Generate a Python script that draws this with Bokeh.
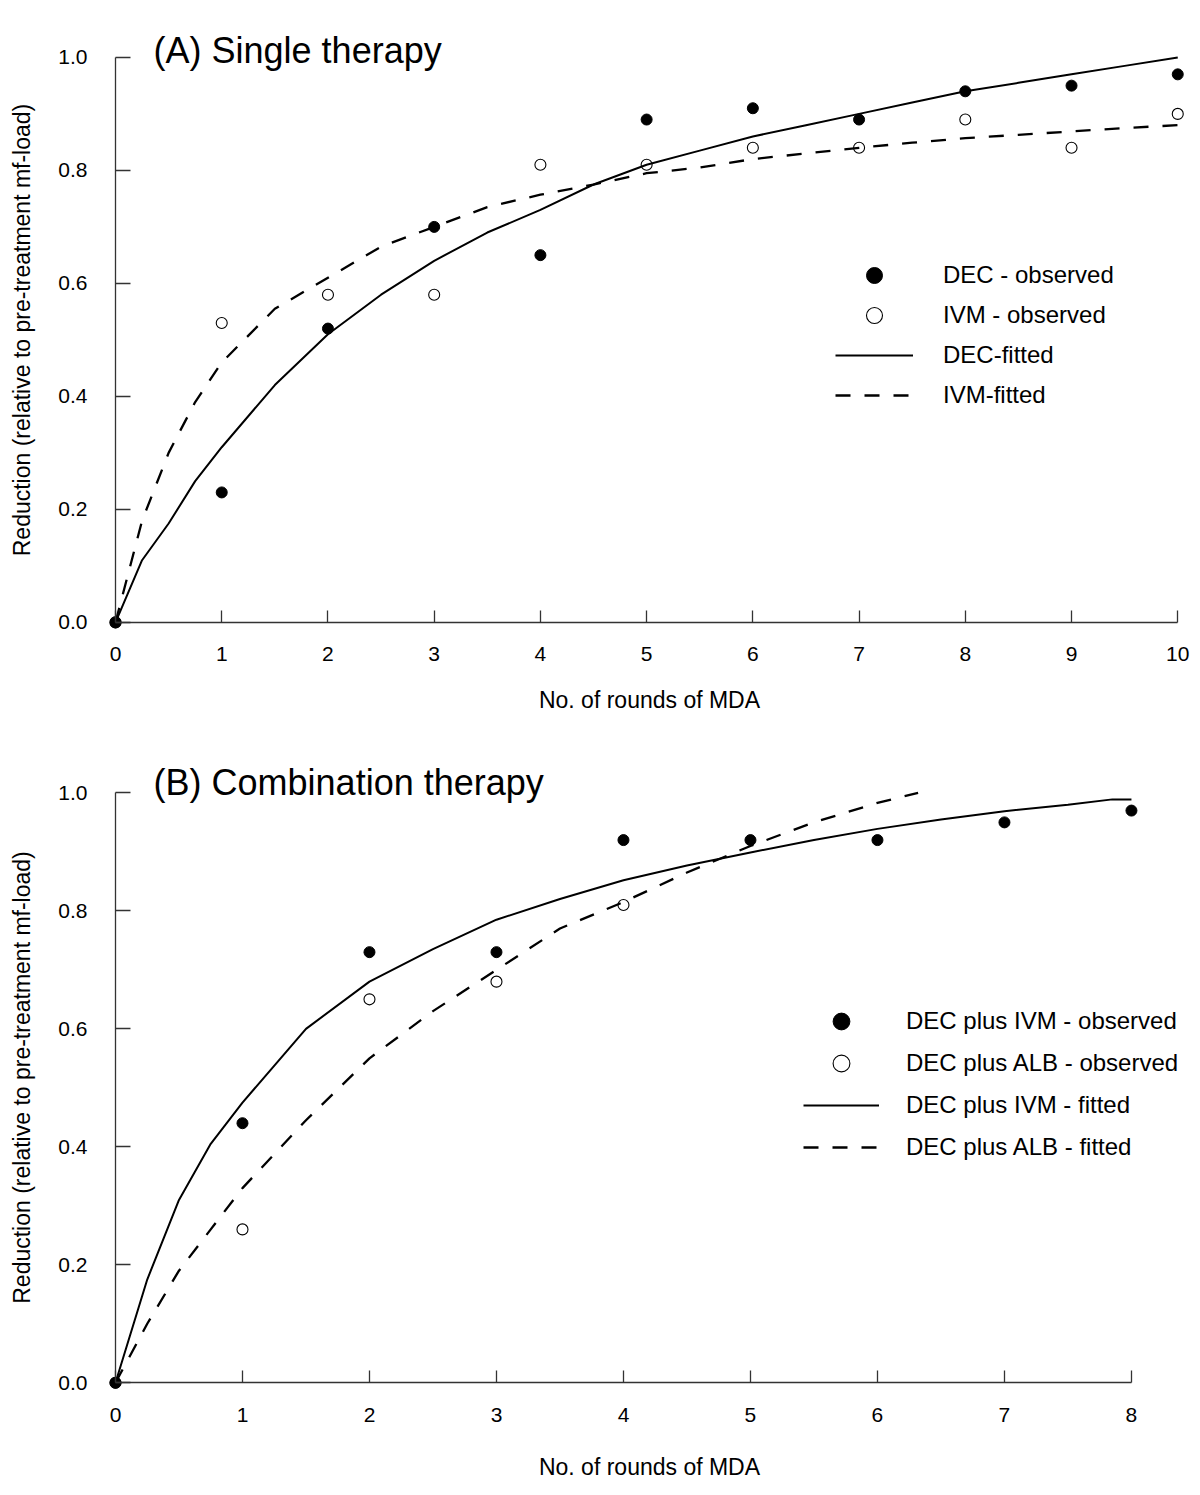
from bokeh.plotting import figure
from bokeh.layouts import column
from bokeh.models import (FixedTicker, PrintfTickFormatter, Label, Legend, LegendItem,
                          LinearAxis, CustomLabelingPolicy)
from bokeh.embed import file_html
from bokeh.resources import INLINE

FONT = "Liberation Sans"

# ---------------- Panel A: single therapy ----------------
rounds_a = [0, 1, 2, 3, 4, 5, 6, 7, 8, 9, 10]
dec_obs_a = [0.0, 0.23, 0.52, 0.70, 0.65, 0.89, 0.91, 0.89, 0.94, 0.95, 0.97]
ivm_obs_a = [0.0, 0.53, 0.58, 0.58, 0.81, 0.81, 0.84, 0.84, 0.89, 0.84, 0.90]
fit_x_a = [0, 0.25, 0.5, 0.75, 1, 1.5, 2, 2.5, 3, 3.5, 4, 4.5, 5, 5.5, 6, 6.5, 7, 7.5, 8, 8.5, 9, 9.5, 10]
dec_fit_a = [0.0, 0.11, 0.175, 0.25, 0.31, 0.42, 0.51, 0.58, 0.64, 0.69, 0.73, 0.775, 0.81, 0.835, 0.86,
             0.88, 0.90, 0.92, 0.94, 0.955, 0.97, 0.985, 1.0]
ivm_fit_a = [0.0, 0.18, 0.30, 0.39, 0.46, 0.555, 0.61, 0.665, 0.70, 0.735, 0.757, 0.775, 0.795, 0.805, 0.82,
             0.83, 0.84, 0.849, 0.857, 0.863, 0.869, 0.875, 0.88]

# ---------------- Panel B: combination therapy ----------------
rounds_b = [0, 1, 2, 3, 4, 5, 6, 7, 8]
dec_ivm_obs = [0.0, 0.44, 0.73, 0.73, 0.92, 0.92, 0.92, 0.95, 0.97]
rounds_b_alb = [0, 1, 2, 3, 4]
dec_alb_obs = [0.0, 0.26, 0.65, 0.68, 0.81]
fit_x_b_ivm = [0, 0.25, 0.5, 0.75, 1, 1.5, 2, 2.5, 3, 3.5, 4, 4.5, 5, 5.5, 6, 6.5, 7, 7.5, 7.85, 8]
dec_ivm_fit = [0.0, 0.175, 0.31, 0.405, 0.475, 0.60, 0.68, 0.735, 0.785, 0.82, 0.852, 0.877, 0.899, 0.92,
               0.939, 0.955, 0.969, 0.98, 0.989, 0.989]
fit_x_b_alb = [0, 0.25, 0.5, 0.75, 1, 1.5, 2, 2.5, 3, 3.5, 4, 4.5, 5, 5.5, 6, 6.32]
dec_alb_fit = [0.0, 0.10, 0.19, 0.26, 0.33, 0.445, 0.55, 0.63, 0.70, 0.77, 0.815, 0.865, 0.91, 0.95, 0.983, 1.0]

y_ticks = [0.0, 0.2, 0.4, 0.6, 0.8, 1.0]
x_label = "No. of rounds of MDA"
y_label = "Reduction (relative to pre-treatment mf-load)"

AXIS_COLOR = "#333333"


def no_labels():
    return CustomLabelingPolicy(code="""
        for (const i of [...indices]) { indices.unset(i) }
        return indices
    """)


def make_fig(x_start, x_end, frame_w, frame_h, y_start, y_end, top, xmax, xtitle_standoff):
    p = figure(frame_width=frame_w, frame_height=frame_h,
               x_range=(x_start, x_end), y_range=(y_start, y_end),
               output_backend="svg", toolbar_location=None,
               min_border_left=108, min_border_right=0,
               min_border_top=top, min_border_bottom=90)
    p.grid.visible = False
    p.outline_line_color = None
    p.background_fill_color = "white"

    x_ticks = list(range(xmax + 1))
    # primary axes at the frame edge: carry tick labels and titles only
    xa = p.xaxis[0]
    ya = p.yaxis[0]
    xa.bounds = (0, xmax)
    ya.bounds = (0, 1)
    xa.ticker = FixedTicker(ticks=x_ticks)
    ya.ticker = FixedTicker(ticks=y_ticks)
    ya.formatter = PrintfTickFormatter(format="%.1f")
    xa.axis_label = x_label
    ya.axis_label = y_label
    for ax in (xa, ya):
        ax.axis_line_alpha = 0
        ax.major_tick_in = 0
        ax.major_tick_out = 0
        ax.minor_tick_in = 0
        ax.minor_tick_out = 0
        ax.major_label_text_font = FONT
        ax.major_label_text_font_size = "21px"
        ax.major_label_text_color = "black"
        ax.axis_label_text_font = FONT
        ax.axis_label_text_font_size = "23px"
        ax.axis_label_text_font_style = "normal"
        ax.axis_label_text_color = "black"
    xa.major_label_standoff = 10
    xa.axis_label_standoff = xtitle_standoff
    ya.major_label_standoff = 21
    ya.axis_label_standoff = 20

    # axis lines and inward ticks drawn exactly through the origin
    xl = LinearAxis(fixed_location=0, bounds=(0, xmax), ticker=FixedTicker(ticks=x_ticks),
                    major_label_policy=no_labels(), major_label_standoff=0,
                    major_tick_in=12, major_tick_out=0, minor_tick_in=0, minor_tick_out=0)
    yl = LinearAxis(fixed_location=0, bounds=(0, 1), ticker=FixedTicker(ticks=y_ticks),
                    major_label_policy=no_labels(), major_label_standoff=0,
                    major_tick_in=15, major_tick_out=0, minor_tick_in=0, minor_tick_out=0)
    for ax in (xl, yl):
        ax.axis_line_color = AXIS_COLOR
        ax.axis_line_width = 1.3
        ax.major_tick_line_color = AXIS_COLOR
        ax.major_tick_line_width = 1.3
    p.add_layout(xl, "below")
    p.add_layout(yl, "left")
    return p


def style_legend(items, loc, gh, gw, standoff):
    return Legend(items=items, location=loc, glyph_height=gh, glyph_width=gw,
                  spacing=0, label_standoff=standoff, padding=0, margin=0,
                  border_line_color=None, background_fill_alpha=0,
                  label_text_font=FONT, label_text_font_size="24px",
                  label_text_color="black", label_height=20)


# ---- Panel A ----
pA = make_fig(-0.066, 10.12, 1082, 613, -0.025, 1.06, 23, 10, 23)
lA1 = pA.line(fit_x_a, dec_fit_a, line_color="black", line_width=2)
lA2 = pA.line(fit_x_a, ivm_fit_a, line_color="black", line_width=2.3, line_dash="15 14")
oA = pA.scatter(rounds_a, ivm_obs_a, marker="circle", size=11, fill_color=None,
                line_color="black", line_width=1.1)
fA = pA.scatter(rounds_a, dec_obs_a, marker="circle", size=11, fill_color="black",
                line_color="black")
pA.add_layout(Label(x=0.358, y=1.0115, x_units="data", y_units="data", text="(A) Single therapy",
                    text_font=FONT, text_font_size="36px", text_color="black",
                    text_baseline="middle", text_align="left"))
legA = style_legend([
    LegendItem(label="DEC - observed", renderers=[fA]),
    LegendItem(label="IVM - observed", renderers=[oA]),
    LegendItem(label="DEC-fitted", renderers=[lA1]),
    LegendItem(label="IVM-fitted", renderers=[lA2]),
], (727, 221), 40, 78, 30)
pA.add_layout(legA)

# ---- Panel B ----
pB = make_fig(-0.055, 8.465, 1082, 640, -0.025, 1.06, 31, 8, 29)
lB1 = pB.line(fit_x_b_ivm, dec_ivm_fit, line_color="black", line_width=2)
lB2 = pB.line(fit_x_b_alb, dec_alb_fit, line_color="black", line_width=2.3, line_dash="15 14")
oB = pB.scatter(rounds_b_alb, dec_alb_obs, marker="circle", size=11, fill_color=None,
                line_color="black", line_width=1.1)
fB = pB.scatter(rounds_b, dec_ivm_obs, marker="circle", size=11, fill_color="black",
                line_color="black")
pB.add_layout(Label(x=0.30, y=1.017, x_units="data", y_units="data", text="(B) Combination therapy",
                    text_font=FONT, text_font_size="36px", text_color="black",
                    text_baseline="middle", text_align="left"))
legB = style_legend([
    LegendItem(label="DEC plus IVM - observed", renderers=[fB]),
    LegendItem(label="DEC plus ALB - observed", renderers=[oB]),
    LegendItem(label="DEC plus IVM - fitted", renderers=[lB1]),
    LegendItem(label="DEC plus ALB - fitted", renderers=[lB2]),
], (695, 229), 42, 76, 27)
pB.add_layout(legB)

layout = column(pA, pB, spacing=0)
open("out.html", "w").write(file_html(layout, INLINE))
